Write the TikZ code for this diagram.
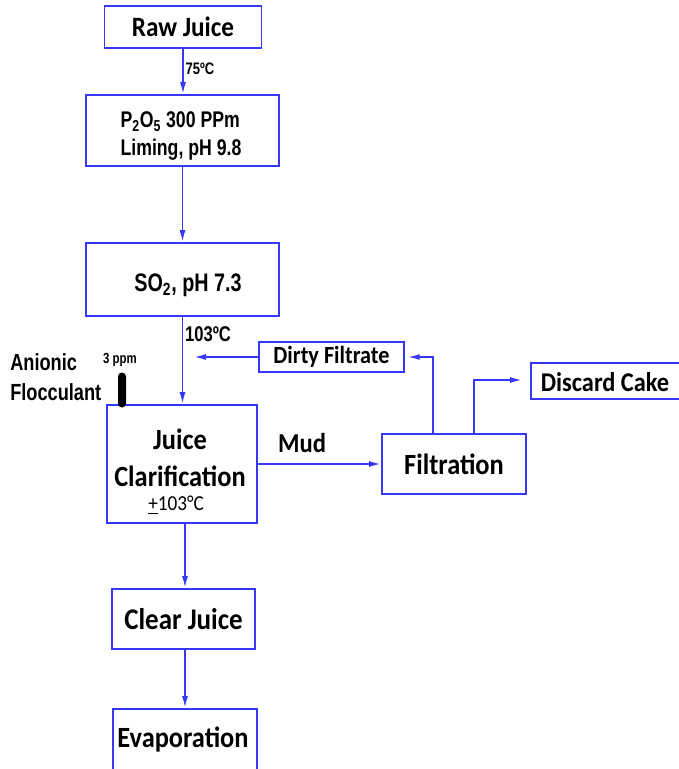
\documentclass[tikz,border=0pt]{standalone}
\usepackage{fontspec}
\setmainfont{Carlito}[FakeStretch=0.9]
\newfontfamily\narrow[FakeStretch=0.78]{Liberation Sans}
\usetikzlibrary{arrows.meta}
\definecolor{bl}{RGB}{55,55,250}
\begin{document}
\begin{tikzpicture}[x=0.75pt,y=-0.75pt,
  box/.style={draw=bl,line width=1.4pt,inner sep=0pt,align=center},
  lbl/.style={inner sep=0pt,align=left},
  arr/.style={draw=bl,line width=1.3pt,-{Latex[length=9pt,width=4.5pt]}},
  cal/.style={font=\bfseries\fontsize{#1}{#1}\selectfont},
  nar/.style={font=\narrow\bfseries\fontsize{#1}{#1}\selectfont}]
\useasboundingbox (0,0) rectangle (679,769);
\clip (0,0) rectangle (679,769);
% boxes
\node[box,cal=21,minimum width=157*0.75pt,minimum height=42*0.75pt] (raw) at (183,27) {Raw Juice};
\node[box,minimum width=193*0.75pt,minimum height=71*0.75pt] (p2o5) at (182.5,130.5) {};
\node[lbl,font=\narrow\bfseries\fontsize{17}{20.5}\selectfont] (p2o5t) at (181,136) {P\textsubscript{2}O\textsubscript{5} 300 PPm\\Liming, pH 9.8};
\node[box,minimum width=193*0.75pt,minimum height=73*0.75pt] (so2) at (182.5,279.5) {};
\node[lbl,nar=19] (so2t) at (188,285) {SO\textsubscript{2}, pH 7.3};
\node[box,minimum width=150*0.75pt,minimum height=118*0.75pt] (jc) at (182,464) {};
\node[lbl,align=center,font=\bfseries\fontsize{22}{27.5}\selectfont] (jct) at (180,458) {Juice\\Clarification};
\node[lbl,font=\fontsize{16}{16}\selectfont] (jctemp) at (176,505) {\underline{+}103°C};
\node[box,cal=22.5,minimum width=143*0.75pt,minimum height=60*0.75pt] (cj) at (183.5,619) {Clear Juice};
\node[box,minimum width=144*0.75pt,minimum height=81*0.75pt] (ev) at (185,749.5) {};
\node[lbl,cal=22] (evt) at (183,739) {Evaporation};
\node[box,cal=18.5,minimum width=145*0.75pt,minimum height=30*0.75pt] (df) at (331.5,357) {Dirty Filtrate};
\node[box,cal=22,minimum width=144*0.75pt,minimum height=60*0.75pt] (filt) at (454,464) {Filtration};
\node[box,minimum width=169*0.75pt,minimum height=36*0.75pt] (dc) at (615.5,381) {};
\node[lbl,cal=20.3] (dct) at (605,382) {Discard Cake};
% labels
\node[lbl,nar=12.5] (t75) at (200,68.5) {75ºC};
\node[lbl,nar=16] (t103) at (208,334) {103ºC};
\node[lbl,cal=20.5] (mud) at (302,443) {Mud};
\node[lbl,anchor=west,font=\narrow\bfseries\fontsize{17.5}{22.5}\selectfont] (anf) at (10,377) {Anionic\\Flocculant};
\node[lbl,nar=11] (ppm) at (120,360) {3 ppm};
\node[fill=black,rounded corners=3pt,minimum width=8*0.75pt,minimum height=35*0.75pt,inner sep=0pt] (bar) at (122,390) {};
% coordinates
\coordinate (dfend) at (194,357);
\coordinate (dcend) at (522,380);
% connectors
\draw[arr] (raw.south) -- (raw.south |- p2o5.north);
\draw[arr] (p2o5.south) -- (p2o5.south |- so2.north);
\draw[arr] (so2.south) -- (so2.south |- jc.north);
\draw[arr] (df.west) -- (dfend);
\draw[arr,shorten >=2pt] ([xshift=-21*0.75pt]filt.north) |- (df.east);
\draw[arr] ([xshift=20*0.75pt]filt.north) |- (dcend);
\draw[arr] (jc.east |- filt.west) -- (filt.west);
\draw[arr] ([xshift=3*0.75pt]jc.south) -- ([xshift=3*0.75pt]jc.south |- cj.north);
\draw[arr] ([xshift=1.5*0.75pt]cj.south) -- ([xshift=1.5*0.75pt]cj.south |- ev.north);
\end{tikzpicture}
\end{document}
